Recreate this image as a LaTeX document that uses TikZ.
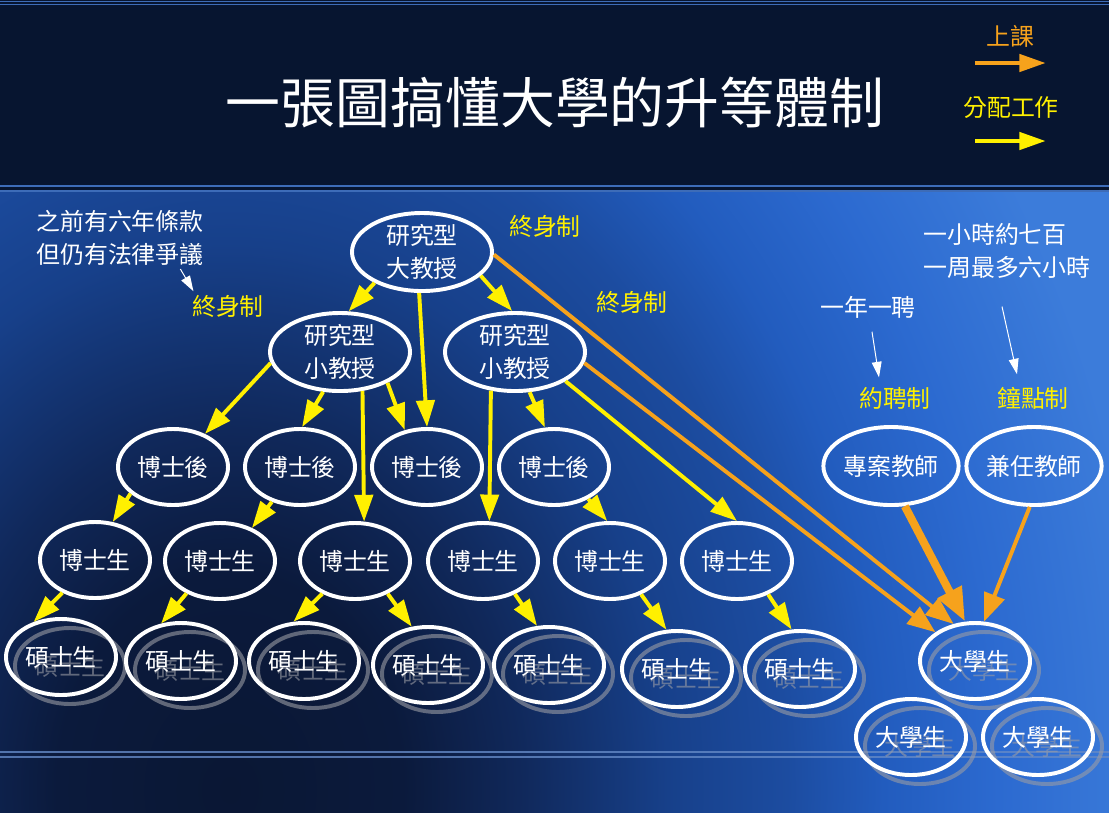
\documentclass[tikz,border=0pt]{standalone}
\usepackage{fontspec}
\setmainfont{Noto Sans CJK TC}
\usepackage{tikz}
\usepackage{xcolor}
\usetikzlibrary{positioning, arrows.meta, shapes.geometric, calc}
\definecolor{bannerNavy}{HTML}{071530}
\definecolor{ruleBlue}{HTML}{3D6CB8}
\definecolor{teachOrange}{HTML}{F6A21C}
\definecolor{assignYellow}{HTML}{FFF000}
\definecolor{ghostGray}{HTML}{9A9CA4}
\definecolor{bgA}{HTML}{0A1734}
\definecolor{bgB}{HTML}{0B1A3C}
\definecolor{bgC}{HTML}{10285A}
\definecolor{bgD}{HTML}{17408A}
\definecolor{bgE}{HTML}{1C4CA0}
\definecolor{bgF}{HTML}{225CBE}
\definecolor{bgG}{HTML}{2C6AD0}
\definecolor{bgH}{HTML}{3C7CDA}
\pgfdeclareradialshading{deskglow}{\pgfpoint{0bp}{0bp}}{color(0bp)=(bgA); color(4.5bp)=(bgB); color(7.5bp)=(bgC); color(11.4bp)=(bgD); color(14.5bp)=(bgE); color(17bp)=(bgF); color(20bp)=(bgG); color(24bp)=(bgH); color(50bp)=(bgH)}

\begin{document}
\begin{tikzpicture}[x=0.025cm, y=-0.025cm,
    every node/.style={font=\fontsize{17}{23}\selectfont, inner sep=1pt},
    pupil/.style={ellipse, draw=white, line width=2.8pt, text=white, inner sep=0pt,
                  minimum width=2.75cm, minimum height=1.9cm},
    prof/.style={pupil, align=center, minimum width=3.5cm, minimum height=1.95cm},
    tutor/.style={pupil, minimum width=3.35cm, minimum height=1.95cm},
    ghost/.style={pupil, draw=ghostGray, text=ghostGray, opacity=0.6},
    words/.style={text=white, align=center},
    system/.style={text=assignYellow},
    assign/.style={assignYellow, line width=2.8pt, -{Triangle[length=19pt, width=13pt]}},
    teach/.style={teachOrange, line width=2.8pt, -{Triangle[length=20pt, width=15pt]}},
    teachbig/.style={teachOrange, line width=5.7pt, -{Triangle[length=24pt, width=18pt]}},
    hint/.style={white, line width=0.7pt, -{Triangle[length=11pt, width=7pt]}}]

  % background
  \useasboundingbox (0,0) rectangle (1109,812);
  \begin{scope}
    \clip (0,192) rectangle (1109,812);
    \fill[bgH] (0,192) rectangle (1109,812);
    \shade[shading=deskglow] (230,790) ellipse (24cm and 30cm);
  \end{scope}
  \fill[bannerNavy] (0,0) rectangle (1109,192);
  \draw[ruleBlue, line width=1pt] (0,1.5) -- (1109,1.5) (0,4.5) -- (1109,4.5);
  \draw[ruleBlue, line width=1.5pt] (0,186) -- (1109,186) (0,191) -- (1109,191);
  \draw[ruleBlue!80!white, opacity=0.8, line width=1pt] (0,752) -- (1109,752) (0,757) -- (1109,757);

  % title and legend
  \node[words, font=\fontsize{39}{40}\selectfont] (title) at (555,103) {一張圖搞懂大學的升等體制};
  \node[text=teachOrange] (lgTeach) at (1010,36) {上課};
  \coordinate (lgTa) at (975,63);
  \coordinate (lgTb) at (1046,63);
  \draw[teach, line width=3.5pt, -{Triangle[length=19pt, width=12pt]}] (lgTa) -- (lgTb);
  \node[system] (lgAssign) at (1011,108) {分配工作};
  \coordinate (lgAa) at (975,141);
  \coordinate (lgAb) at (1046,141);
  \draw[assign, line width=3.5pt, -{Triangle[length=19pt, width=12pt]}] (lgAa) -- (lgAb);

  % notes
  \node[words] (note) at (120,238) {之前有六年條款\\但仍有法律爭議};
  \node[system] (life1) at (228,306) {終身制};
  \node[system] (life2) at (545,226) {終身制};
  \node[system] (life3) at (632,302) {終身制};
  \node[words, align=left, anchor=west, inner sep=0pt] (hours) at (923,251) {一小時約七百\\一周最多六小時};
  \node[words] (yearly) at (868,307) {一年一聘};
  \node[system] (contract) at (895,398) {約聘制};
  \node[system] (hourly) at (1033,398) {鐘點制};

  % staff
  \node[prof] (big) at (422,252) {研究型\\大教授};
  \node[prof] (profL) at (340,352) {研究型\\小教授};
  \node[prof] (profR) at (515,352) {研究型\\小教授};
  \node[pupil] (post1) at (173,467) {博士後};
  \node[pupil] (post2) at (300,467) {博士後};
  \node[pupil] (post3) at (427,467) {博士後};
  \node[pupil] (post4) at (554,467) {博士後};
  \node[pupil] (phd1) at (95,560) {博士生};
  \node[pupil] (phd2) at (220,561) {博士生};
  \node[pupil] (phd3) at (355,561) {博士生};
  \node[pupil] (phd4) at (483,561) {博士生};
  \node[pupil] (phd5) at (610,561) {博士生};
  \node[pupil] (phd6) at (737,561) {博士生};
  \node[tutor] (proj) at (891,466) {專案教師};
  \node[tutor] (adj) at (1034,466) {兼任教師};
  \foreach \n/\x/\y/\w in {ms1/61/657/碩士生, ms2/181/661/碩士生, ms3/304/661/碩士生,
      ms4/428/665/碩士生, ms5/549/665/碩士生, ms6/677/669/碩士生, ms7/800/669/碩士生,
      ug1/975/661/大學生, ug2/911/737/大學生, ug3/1038/737/大學生}{
    \node[ghost] (\n-g) at (\x+9,\y+9) {\w};
    \node[pupil] (\n) at (\x,\y) {\w};
  }

  % hints
  \draw[hint] ($(note.south east)+(-25,2)$) -- ($(life1.north west)+(3,-2)$);
  \draw[hint] ($(yearly.south)+(4,12)$) -- ($(contract.north)+(-16,-8)$);
  \draw[hint] ($(hours.south west)+(79,28)$) -- ($(hourly.north)+(-16,-11)$);

  % work and teaching
  \draw[assign] (big.213) -- (profL.78);
  \draw[assign] (big.266) -- (post3.90);
  \draw[assign] (big.338) -- (profR.94);
  \draw[teach] (big.358) -- (ug1.120);
  \draw[assign] (profL.189) -- (post1.46);
  \draw[assign] (profL.247) -- (post2.87);
  \draw[assign] (profL.300) -- (phd3.77);
  \draw[assign] (profL.327) -- (post3.121);
  \draw[assign] (profR.238) -- (phd4.81);
  \draw[assign] (profR.290) -- (post4.103);
  \draw[assign] (profR.330) -- (phd6.90);
  \draw[teach] (profR.351) -- (ug1.144);
  \draw[assign] (post1.212) -- (phd1.65);
  \draw[assign] (post2.231) -- (phd2.46);
  \draw[assign] (post4.317) -- (phd5.94);
  \draw[assign] (phd1.225) -- (ms1.128);
  \draw[assign] (phd2.224) -- (ms2.118);
  \draw[assign] (phd3.225) -- (ms3.105);
  \draw[assign] (phd3.315) -- (ms4.113);
  \draw[assign] (phd4.314) -- (ms5.107);
  \draw[assign] (phd5.313) -- (ms6.105);
  \draw[assign] (phd6.313) -- (ms7.102);
  \draw[teachbig] (proj.289) -- (ug1.104);
  \draw[teach] (adj.264) -- (ug1.77);
\end{tikzpicture}
\end{document}
